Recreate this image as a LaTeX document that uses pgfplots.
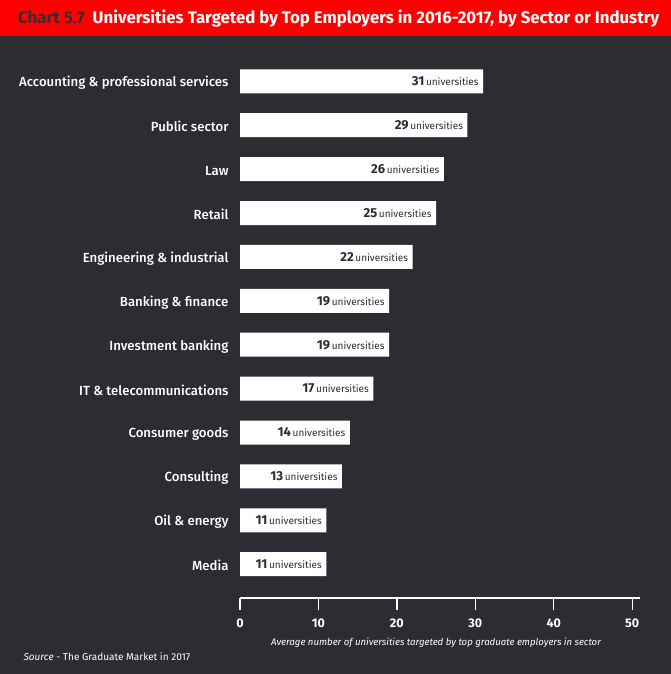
\documentclass[border=0pt]{standalone}
\usepackage{pgfplots}
\pgfplotsset{compat=1.18}
\usepackage{fontspec}
\setmainfont{Fira Sans}
\newfontfamily\medfont{Fira Sans Medium}
\definecolor{bg}{HTML}{2B2D33}
\definecolor{titlered}{HTML}{FF0000}
\definecolor{chartnum}{HTML}{3A2B2E}
\begin{document}
\begin{tikzpicture}
\fill[bg] (0pt,0pt) rectangle (671pt,674pt);
\fill[titlered] (0pt,638pt) rectangle (671pt,674pt);
\node[anchor=west, inner sep=0pt, font=\bfseries\fontsize{16.8}{20}\selectfont] at (18pt,655.5pt) {\textcolor{chartnum}{Chart 5.7}\ \ \textcolor{white}{Universities Targeted by Top Employers in 2016-2017, by Sector or Industry}};
\begin{axis}[
  at={(240pt,76pt)}, anchor=south west,
  scale only axis, width=400pt, height=543pt,
  xmin=0, xmax=51, ymin=-0.77, ymax=11.6,
  xbar, bar width=24pt,
  axis x line*=bottom, axis y line*=left,
  y axis line style={draw=none},
  x axis line style={white, line width=1.3pt, -},
  xtick={0,10,20,30,40,50},
  xtick align=outside, major tick length=12pt,
  xtick style={white, line width=1.3pt},
  ytick style={draw=none},
  ytick=data,
  yticklabels={Media, Oil \& energy, Consulting, Consumer goods, IT \& telecommunications, Investment banking, Banking \& finance, Engineering \& industrial, Retail, Law, Public sector, Accounting \& professional services},
  y tick label style={text=white, font=\medfont\fontsize{13.2}{15}\selectfont, xshift=4pt, yshift=-1.5pt},
  x tick label style={text=white, font=\bfseries\fontsize{12.5}{14}\selectfont, yshift=-5pt},
  /pgf/number format/assume math mode=true,
  point meta=x,
  nodes near coords={\textbf{\fontsize{13}{15}\selectfont\pgfmathprintnumber{\pgfplotspointmeta}}\,{\fontsize{10}{12}\selectfont universities}},
  every node near coord/.append style={anchor=east, text=bg, xshift=-1pt},
]
\addplot[fill=white, draw=none] coordinates {
(11,0) (11,1) (13,2) (14,3) (17,4) (19,5) (19,6) (22,7) (25,8) (26,9) (29,10) (31,11)
};
\end{axis}
\node[text=white, font=\itshape\fontsize{9.6}{11}\selectfont] at (436pt,31pt) {Average number of universities targeted by top graduate employers in sector};
\node[anchor=west, text=white, font=\fontsize{10}{12}\selectfont] at (20pt,17pt) {\textit{Source} - The Graduate Market in 2017};
\end{tikzpicture}
\end{document}
